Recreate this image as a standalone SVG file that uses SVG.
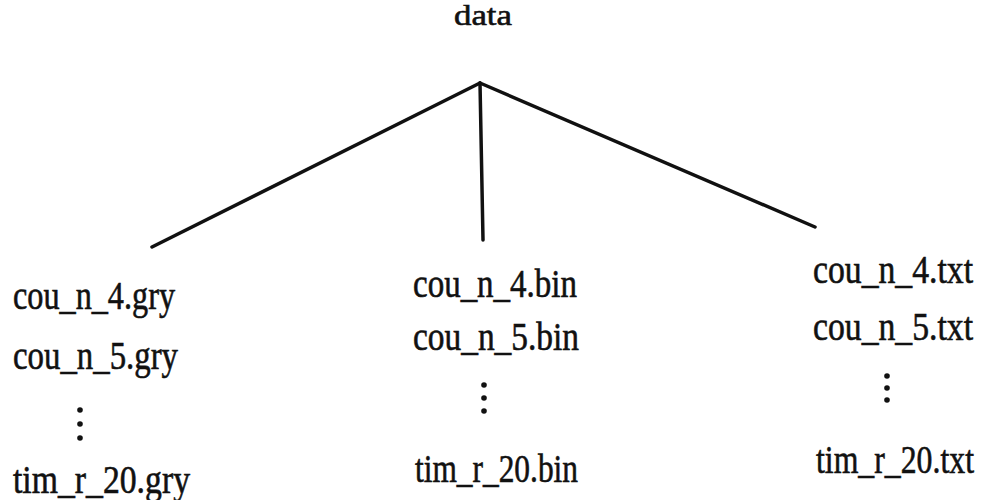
<svg xmlns="http://www.w3.org/2000/svg" width="988" height="500" viewBox="0 0 988 500">
<style>
text{font-family:"Liberation Serif","DejaVu Serif",serif;fill:#111;font-size:40px;stroke:#111;stroke-width:0.6}
.t{font-size:30px}
.e{stroke:#111;stroke-width:3.5;fill:none;stroke-linecap:round}
.d{fill:#111}
</style>
<rect width="988" height="500" fill="#fff"/>
<g id="root"><text class="t" x="483" y="25" text-anchor="middle" textLength="58" lengthAdjust="spacingAndGlyphs">data</text></g>
<g id="connectors">
<line class="e" x1="480" y1="83" x2="152" y2="247"/>
<line class="e" x1="480" y1="83" x2="483" y2="240"/>
<line class="e" x1="480" y1="83" x2="815" y2="227"/>
</g>
<g id="gry">
<text x="13" y="309" textLength="162" lengthAdjust="spacingAndGlyphs">cou_n_4.gry</text>
<text x="13" y="369" textLength="165" lengthAdjust="spacingAndGlyphs">cou_n_5.gry</text>
<circle class="d" cx="80" cy="410" r="2.8"/><circle class="d" cx="80" cy="424" r="2.8"/><circle class="d" cx="80" cy="438" r="2.8"/>
<text x="13" y="493" textLength="177" lengthAdjust="spacingAndGlyphs">tim_r_20.gry</text>
</g>
<g id="bin">
<text x="413" y="297" textLength="164" lengthAdjust="spacingAndGlyphs">cou_n_4.bin</text>
<text x="413" y="350" textLength="166" lengthAdjust="spacingAndGlyphs">cou_n_5.bin</text>
<circle class="d" cx="484" cy="385" r="2.8"/><circle class="d" cx="484" cy="398" r="2.8"/><circle class="d" cx="484" cy="411" r="2.8"/>
<text x="415" y="482" textLength="163" lengthAdjust="spacingAndGlyphs">tim_r_20.bin</text>
</g>
<g id="txt">
<text x="813" y="283" textLength="160" lengthAdjust="spacingAndGlyphs">cou_n_4.txt</text>
<text x="813" y="340" textLength="160" lengthAdjust="spacingAndGlyphs">cou_n_5.txt</text>
<circle class="d" cx="887" cy="376" r="2.8"/><circle class="d" cx="887" cy="388" r="2.8"/><circle class="d" cx="887" cy="400" r="2.8"/>
<text x="816" y="473" textLength="158" lengthAdjust="spacingAndGlyphs">tim_r_20.txt</text>
</g>
</svg>
